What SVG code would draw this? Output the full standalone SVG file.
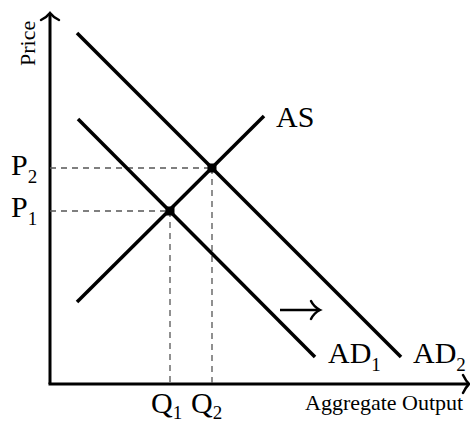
<svg xmlns="http://www.w3.org/2000/svg" width="470" height="421" viewBox="0 0 470 421">
<style>
.axis{stroke:#000;stroke-width:3;fill:none}
.curve{stroke:#000;stroke-width:3.5;fill:none;stroke-linecap:butt}
.dash{stroke:#555;stroke-width:1.3;stroke-dasharray:6,5;fill:none}
.head{stroke:#000;stroke-width:2.5;fill:none;stroke-linecap:round}
.lbl{font-family:"Liberation Serif",serif;font-size:30px;fill:#000}
.sub{font-size:19px}
.small{font-family:"Liberation Serif",serif;font-size:22px;fill:#000}
.dot{fill:#000}
</style>
<rect width="470" height="421" fill="#fff"/>
<g id="axes">
<line class="axis" x1="50" y1="14" x2="50" y2="384"/>
<line class="axis" x1="48.5" y1="384" x2="468" y2="384"/>
<path class="head" d="M41,20 Q47,17 50,13 Q53,17 59,20"/>
<path class="head" d="M463,375 Q466,381 469,384 Q466,387 463,393"/>
<text class="small" transform="translate(35,66) rotate(-90)">Price</text>
<text class="small" x="305" y="410">Aggregate Output</text>
</g>
<g id="connectors">
<line class="dash" x1="50" y1="168" x2="212" y2="168"/>
<line class="dash" x1="50" y1="211" x2="170" y2="211"/>
<line class="dash" x1="170" y1="211" x2="170" y2="384"/>
<line class="dash" x1="212" y1="168" x2="212" y2="384"/>
</g>
<g id="AS">
<line class="curve" x1="77" y1="302" x2="264" y2="116"/>
<text class="lbl" x="276" y="127">AS</text>
</g>
<g id="AD1">
<line class="curve" x1="78" y1="119" x2="315" y2="357"/>
<text class="lbl" x="328" y="363">AD<tspan class="sub" dy="8">1</tspan></text>
</g>
<g id="AD2">
<line class="curve" x1="77" y1="33" x2="401" y2="357"/>
<text class="lbl" x="413" y="363">AD<tspan class="sub" dy="8">2</tspan></text>
</g>
<g id="shift">
<line x1="280" y1="310" x2="319" y2="310" stroke="#000" stroke-width="2.5"/>
<path class="head" d="M311,301 Q314,307 320,310 Q314,313 311,319"/>
</g>
<g id="E1">
<rect class="dot" x="165.5" y="206.5" width="9" height="9"/>
</g>
<g id="E2">
<rect class="dot" x="207.5" y="163.5" width="9" height="9"/>
</g>
<g id="labels">
<text class="lbl" x="11" y="175">P<tspan class="sub" dy="8">2</tspan></text>
<text class="lbl" x="11" y="217">P<tspan class="sub" dy="8">1</tspan></text>
<text class="lbl" x="151" y="413">Q<tspan class="sub" dy="6">1</tspan></text>
<text class="lbl" x="191" y="413">Q<tspan class="sub" dy="6">2</tspan></text>
</g>
</svg>
